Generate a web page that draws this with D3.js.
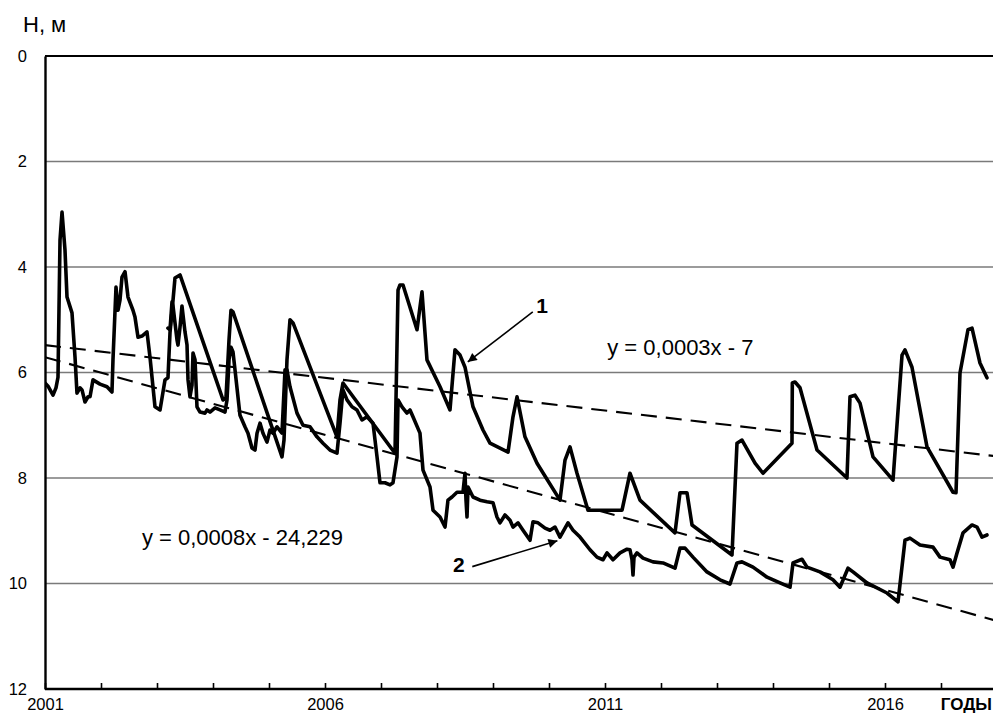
<!DOCTYPE html>
<html><head><meta charset="utf-8">
<script src="https://cdn.jsdelivr.net/npm/d3@7"></script>
<style>
body{margin:0;background:#fff}
text{font-family:"Liberation Sans",Arial,sans-serif;fill:#000}
</style>
</head><body>
<svg id="chart" width="993" height="713"></svg>
<script>
// ---- data ----
const yearTicks = [2001,2002,2003,2004,2005,2006,2007,2008,2009,2010,2011,2012,2013,2014,2015,2016,2017];
const yearLabels = [2001, 2006, 2011, 2016];
const depthTicks = [0, 2, 4, 6, 8, 10, 12];
const yAxisTitle = "Н, м";
const xAxisTitle = "ГОДЫ";

// series 1: [year, depth m]
const series1 = [
 [2001.000,6.20],[2001.054,6.26],[2001.143,6.43],[2001.196,6.29],[2001.232,6.09],[2001.268,3.49],
 [2001.304,2.96],[2001.357,3.68],[2001.393,4.57],[2001.482,4.87],[2001.536,5.71],[2001.571,6.39],
 [2001.625,6.29],[2001.661,6.33],[2001.714,6.56],[2001.768,6.46],[2001.804,6.46],[2001.857,6.14],
 [2001.982,6.22],[2002.107,6.27],[2002.196,6.37],[2002.214,5.76],[2002.268,4.38],[2002.304,4.82],
 [2002.339,4.63],[2002.375,4.19],[2002.429,4.09],[2002.482,4.57],[2002.571,4.82],[2002.607,4.95],
 [2002.661,5.33],[2002.732,5.31],[2002.821,5.23],[2002.875,5.71],[2002.964,6.65],[2003.054,6.71],
 [2003.143,6.14],[2003.196,6.10],[2003.232,5.25],[2003.286,4.63],[2003.321,4.21],[2003.411,4.15],
 [2004.179,6.52],[2004.232,6.48],[2004.286,5.38],[2004.321,4.82],[2004.357,4.85],[2005.232,7.60],
 [2005.268,7.28],[2005.321,5.76],[2005.375,5.00],[2005.429,5.06],[2006.214,7.22],[2006.268,6.52],
 [2006.321,6.20],[2007.250,7.53],[2007.304,4.44],[2007.339,4.34],[2007.393,4.34],[2007.643,5.19],
 [2007.732,4.47],[2007.821,5.76],[2008.054,6.27],[2008.232,6.71],[2008.321,5.57],[2008.411,5.67],
 [2008.500,5.90],[2008.643,6.65],[2008.821,7.09],[2008.946,7.34],[2009.268,7.51],[2009.357,6.84],
 [2009.429,6.46],[2009.571,7.22],[2009.786,7.72],[2010.196,8.42],[2010.286,7.66],[2010.375,7.41],
 [2010.500,7.91],[2010.696,8.61],[2011.304,8.61],[2011.446,7.91],[2011.625,8.42],[2012.250,9.04],
 [2012.339,8.28],[2012.464,8.28],[2012.554,8.89],[2013.268,9.46],[2013.357,7.34],[2013.446,7.28],
 [2013.679,7.72],[2013.821,7.91],[2014.339,7.34],[2014.345,6.20],[2014.393,6.18],[2014.482,6.29],
 [2014.786,7.47],[2015.321,8.00],[2015.375,6.46],[2015.464,6.43],[2015.554,6.58],[2015.786,7.60],
 [2016.143,8.04],[2016.304,5.67],[2016.357,5.57],[2016.482,5.90],[2016.750,7.41],[2017.214,8.27],
 [2017.268,8.28],[2017.339,6.01],[2017.482,5.19],[2017.554,5.16],[2017.696,5.82],[2017.821,6.10]
];

// series 2: [year, depth m]
const series2 = [
 [2003.196,5.16],[2003.232,5.19],[2003.268,4.66],[2003.286,4.74],[2003.357,5.38],[2003.375,5.48],
 [2003.411,5.14],[2003.446,4.74],[2003.500,5.23],[2003.536,5.48],[2003.554,6.14],[2003.589,6.46],
 [2003.625,6.24],[2003.643,5.63],[2003.679,5.76],[2003.714,6.65],[2003.768,6.75],[2003.857,6.77],
 [2003.893,6.71],[2003.946,6.75],[2004.036,6.67],[2004.125,6.71],[2004.214,6.75],[2004.250,6.52],
 [2004.286,5.76],[2004.321,5.52],[2004.357,5.61],[2004.393,5.95],[2004.482,6.81],[2004.571,7.03],
 [2004.625,7.15],[2004.696,7.43],[2004.750,7.47],[2004.786,7.15],[2004.839,6.96],[2004.893,7.15],
 [2004.964,7.32],[2005.018,7.09],[2005.071,7.15],[2005.143,7.03],[2005.232,7.15],[2005.286,5.95],
 [2005.321,5.95],[2005.375,6.27],[2005.500,6.77],[2005.607,7.00],[2005.732,7.03],[2005.857,7.22],
 [2005.964,7.34],[2006.089,7.47],[2006.214,7.53],[2006.268,6.96],[2006.321,6.33],[2006.393,6.52],
 [2006.482,6.65],[2006.571,6.71],[2006.661,6.90],[2006.750,6.84],[2006.857,6.96],[2006.929,7.60],
 [2006.982,8.09],[2007.071,8.09],[2007.161,8.13],[2007.214,8.09],[2007.286,7.60],[2007.304,6.52],
 [2007.375,6.65],[2007.464,6.77],[2007.518,6.71],[2007.571,6.84],[2007.696,7.15],[2007.750,7.85],
 [2007.875,8.17],[2007.929,8.61],[2008.054,8.74],[2008.143,8.93],[2008.196,8.42],[2008.268,8.36],
 [2008.357,8.27],[2008.464,8.27],[2008.500,7.91],[2008.518,8.42],[2008.536,8.74],[2008.554,8.17],
 [2008.643,8.36],[2008.768,8.42],[2008.893,8.45],[2009.000,8.47],[2009.071,8.74],[2009.125,8.85],
 [2009.214,8.70],[2009.304,8.80],[2009.357,8.93],[2009.446,8.85],[2009.536,8.99],[2009.661,9.18],
 [2009.714,8.83],[2009.804,8.85],[2009.929,8.95],[2010.018,8.99],[2010.107,8.93],[2010.196,9.12],
 [2010.339,8.85],[2010.429,8.99],[2010.554,9.12],[2010.732,9.36],[2010.857,9.50],[2010.964,9.55],
 [2011.036,9.42],[2011.143,9.55],[2011.268,9.42],[2011.393,9.35],[2011.446,9.36],[2011.482,9.55],
 [2011.500,9.84],[2011.518,9.50],[2011.571,9.42],[2011.679,9.52],[2011.857,9.59],[2012.036,9.61],
 [2012.250,9.71],[2012.339,9.33],[2012.429,9.33],[2012.571,9.50],[2012.821,9.78],[2013.054,9.93],
 [2013.232,10.01],[2013.357,9.61],[2013.446,9.59],[2013.643,9.69],[2013.893,9.88],[2014.125,9.99],
 [2014.304,10.07],[2014.357,9.61],[2014.518,9.54],[2014.607,9.69],[2014.839,9.78],[2015.071,9.93],
 [2015.196,10.07],[2015.339,9.71],[2015.429,9.78],[2015.679,9.99],[2016.036,10.18],[2016.232,10.35],
 [2016.357,9.18],[2016.446,9.14],[2016.625,9.27],[2016.857,9.31],[2016.982,9.50],[2017.161,9.55],
 [2017.214,9.69],[2017.286,9.42],[2017.393,9.04],[2017.554,8.89],[2017.643,8.93],[2017.732,9.12],
 [2017.821,9.08]
];

// linear trends (endpoints)
const trend1 = [[2001, 5.48], [2018, 7.59]];
const trend2 = [[2001, 5.71], [2018, 10.71]];
const eq1 = "y = 0,0003x - 7";
const eq2 = "y = 0,0008x - 24,229";
const seriesLabels = ["1", "2"];

// ---- drawing ----
const W = 993, H = 713;
const FONT = "'Liberation Sans',Arial,sans-serif";
const svg = d3.select("#chart");
const x = d3.scaleLinear().domain([2001, 2018]).range([45, 997]);
const y = d3.scaleLinear().domain([0, 12]).range([56, 689]);

svg.append("defs").append("marker")
  .attr("id","arr").attr("viewBox","0 0 10 10").attr("refX",10).attr("refY",5)
  .attr("markerWidth",12).attr("markerHeight",9).attr("markerUnits","userSpaceOnUse")
  .attr("orient","auto")
  .append("path").attr("d","M0,0 L10,5 L0,10 Z").attr("fill","#000");

svg.append("clipPath").attr("id","clip").append("rect")
  .attr("x",45).attr("y",56).attr("width",W-45).attr("height",633);

// gridlines
svg.append("g").selectAll("line").data(depthTicks.filter(d => d > 0 && d < 12)).join("line")
  .attr("x1", 45).attr("x2", W).attr("y1", d => y(d)).attr("y2", d => y(d))
  .attr("stroke", "#7a7a7a").attr("stroke-width", 1.4);

// top border
svg.append("line").attr("x1",45).attr("x2",W).attr("y1",y(0)).attr("y2",y(0))
  .attr("stroke","#000").attr("stroke-width",2.2);

// y axis
const yAxis = d3.axisLeft(y).tickValues(depthTicks).tickSize(0).tickPadding(18);
const gy = svg.append("g").attr("transform","translate(45,0)").call(yAxis);
gy.select(".domain").attr("stroke","#000").attr("stroke-width",2.4);
gy.selectAll("text").style("font-size","16.5px").style("font-family",FONT).attr("fill","#000");

// x axis (ticks pointing up)
const xAxis = d3.axisBottom(x).tickValues(yearTicks).tickSizeInner(-6).tickSizeOuter(0)
  .tickFormat(d => yearLabels.includes(d) ? String(d) : "");
const gx = svg.append("g").attr("transform","translate(0,689)").call(xAxis);
gx.select(".domain").attr("stroke","#000").attr("stroke-width",2.4).attr("d","M45,0H"+W);
gx.selectAll(".tick line").attr("stroke","#000").attr("stroke-width",1.6);
gx.selectAll("text").attr("y", 21).attr("dy", 0)
  .style("font-size","16.5px").style("font-family",FONT).attr("fill","#000");

// axis titles
svg.append("text").attr("x", 23).attr("y", 32).style("font-size","22px").text(yAxisTitle);
svg.append("text").attr("x", 992).attr("y", 710).attr("text-anchor","end")
  .style("font-size","17px").style("font-weight","bold").text(xAxisTitle);

// trend lines
const line = d3.line().x(d => x(d[0])).y(d => y(d[1]));
const plot = svg.append("g").attr("clip-path","url(#clip)");
[trend1, trend2].forEach(t => {
  plot.append("path").attr("d", line(t)).attr("fill","none")
    .attr("stroke","#000").attr("stroke-width",2.1).attr("stroke-dasharray","16,9");
});

// series
[series1, series2].forEach(s => {
  plot.append("path").attr("d", line(s)).attr("fill","none")
    .attr("stroke","#000").attr("stroke-width",3.6)
    .attr("stroke-linejoin","round").attr("stroke-linecap","round");
});

// equations
svg.append("text").attr("x", x(2011.04)).attr("y", y(5.67)).style("font-size","22px").text(eq1);
svg.append("text").attr("x", x(2002.73)).attr("y", y(9.27)).style("font-size","22px").text(eq2);

// series labels + arrows
svg.append("text").attr("x", x(2009.875)).attr("y", y(4.87)).attr("text-anchor","middle")
  .style("font-size","21px").style("font-weight","bold").text(seriesLabels[0]);
svg.append("line").attr("x1", x(2009.71)).attr("y1", y(4.85)).attr("x2", x(2008.55)).attr("y2", y(5.80))
  .attr("stroke","#000").attr("stroke-width",1.6).attr("marker-end","url(#arr)");

svg.append("text").attr("x", x(2008.39)).attr("y", y(9.78)).attr("text-anchor","middle")
  .style("font-size","21px").style("font-weight","bold").text(seriesLabels[1]);
svg.append("line").attr("x1", x(2008.63)).attr("y1", y(9.68)).attr("x2", x(2010.15)).attr("y2", y(9.19))
  .attr("stroke","#000").attr("stroke-width",1.6).attr("marker-end","url(#arr)");
</script>
</body></html>
